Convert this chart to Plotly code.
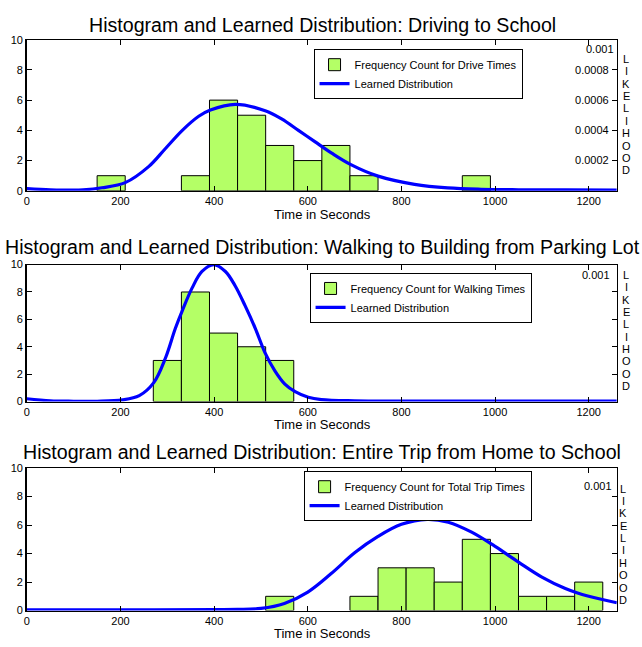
import plotly.graph_objects as go

# ---------------- data ----------------
titles = [
    "Histogram and Learned Distribution: Driving to School",
    "Histogram and Learned Distribution: Walking to Building from Parking Lot",
    "Histogram and Learned Distribution: Entire Trip from Home to School",
]
hist_names = [
    "Frequency Count for Drive Times",
    "Frequency Count for Walking Times",
    "Frequency Count for Total Trip Times",
]
curve_name = "Learned Distribution"
bin_width = 60

# Panel 1: drive times
drive_bins = [180, 360, 420, 480, 540, 600, 660, 720, 960]
drive_counts = [1, 1, 6, 5, 3, 2, 3, 1, 1]
drive_curve_x = [0, 50, 100, 120, 160, 210, 260, 296, 332, 367, 392, 445, 509,
                 544, 580, 615, 651, 692, 750, 828, 899, 970, 1050, 1150, 1260]
drive_curve_y = [0.000015, 0.000007, 0.000004, 0.000006, 0.00002, 0.000054,
                 0.00016, 0.00028, 0.0004, 0.000493, 0.000534, 0.000572,
                 0.00053, 0.000476, 0.0004, 0.000325, 0.000249, 0.000173,
                 0.000097, 0.000043, 0.000019, 0.00001, 0.000007, 0.000006,
                 0.000005]

# Panel 2: walking times
walk_bins = [300, 360, 420, 480, 540]
walk_counts = [3, 8, 5, 4, 3]
walk_curve_x = [0, 50, 100, 150, 204, 240, 271, 296, 317, 332, 353, 374, 399,
                424, 445, 466, 488, 509, 530, 551, 573, 601, 629, 700, 800,
                1000, 1260]
walk_curve_y = [0.00002, 0.000005, 0.000002, 0.000002, 0.000012, 0.000043,
                0.000138, 0.000318, 0.000533, 0.000664, 0.00083, 0.00095, 0.001,
                0.00095, 0.000844, 0.0007, 0.000533, 0.000353, 0.000222,
                0.000127, 0.000072, 0.000031, 0.000014, 0.000005, 0.000003,
                0.000003, 0.000003]

# Panel 3: total trip times
trip_bins = [540, 720, 780, 840, 900, 960, 1020, 1080, 1140, 1200]
trip_counts = [1, 1, 3, 3, 2, 5, 4, 1, 1, 2]
trip_curve_x = [0, 200, 400, 450, 500, 550, 600, 650, 700, 750, 800, 855, 900,
                950, 1000, 1050, 1100, 1150, 1200, 1260]
trip_curve_y = [0.000005, 0.000005, 0.000007, 0.000008, 0.000015, 0.00005, 0.00013,
                0.00026, 0.000405, 0.00052, 0.000605, 0.00064, 0.00062, 0.00055,
                0.00045, 0.00034, 0.000235, 0.000155, 0.0001, 0.000055]

x_ticks = [0, 200, 400, 600, 800, 1000, 1200]
y_ticks = [0, 2, 4, 6, 8, 10]
like_ticks = [0.0002, 0.0004, 0.0006, 0.0008, 0.001]
like_labels_p1 = ["0.0002", "0.0004", "0.0006", "0.0008", ""]
like_labels_blank = ["", "", "", "", ""]
side_title = "LIKELIHOOD"
top_like_label = "0.001"

# ---------------- layout helpers ----------------
W, H = 642, 647
FONT = "Liberation Sans, Arial, Helvetica, sans-serif"
BAR_COLOR = "#b4ff66"
LINE_COLOR = "#0000ff"


def px(x):
    return x / W


def py(y):
    return 1 - y / H


x_dom = [px(24), px(616.7)]
y_doms = [
    [py(188.3), py(34.3)],
    [py(403), py(263.5)],
    [py(616), py(470.8)],
]
title_y = [19, 246, 454]
xlabel_y = [212, 426, 639]
like_top = [54, 274, 491.7]
like_step = 12.6
like_x = [626, 626, 623]
top_label = [(616, 44), (612, 274), (614, 489)]
legend_pos = [(312, 44), (308, 272), (302, 474)]

bins = [drive_bins, walk_bins, trip_bins]
counts = [drive_counts, walk_counts, trip_counts]
cx = [drive_curve_x, walk_curve_x, trip_curve_x]
cy = [drive_curve_y, walk_curve_y, trip_curve_y]

fig = go.Figure()
layout = dict(
    width=W, height=H, autosize=False,
    margin=dict(l=0, r=0, t=0, b=0, pad=0),
    paper_bgcolor="white", plot_bgcolor="white",
    font=dict(family=FONT, size=11, color="black"),
    barmode="overlay",
    annotations=[],
)

for i in range(3):
    n = i + 1
    xa = "x" if n == 1 else f"x{n}"
    ya = "y" if n == 1 else f"y{n}"
    ya2_num = n + 3
    ya2 = f"y{ya2_num}"
    leg = "legend" if n == 1 else f"legend{n}"

    fig.add_trace(go.Bar(
        x=bins[i], y=counts[i], width=bin_width,
        marker=dict(color=BAR_COLOR, line=dict(color="black", width=1)),
        name=hist_names[i], xaxis=xa, yaxis=ya, legend=leg,
    ))
    fig.add_trace(go.Scatter(
        x=cx[i], y=cy[i], mode="lines",
        line=dict(color=LINE_COLOR, width=3.2, shape="spline", smoothing=1.0),
        name=curve_name, xaxis=xa, yaxis=ya2, legend=leg,
    ))

    xkey = "xaxis" if n == 1 else f"xaxis{n}"
    ykey = "yaxis" if n == 1 else f"yaxis{n}"
    layout[xkey] = dict(
        domain=x_dom, anchor=ya, range=[0, 1260],
        tickvals=x_ticks, ticks="inside", ticklen=5, tickcolor="black",
        showline=True, linecolor="black", linewidth=1, mirror="ticks",
        showgrid=False, zeroline=False, tickfont=dict(size=11),
    )
    layout[ykey] = dict(
        domain=y_doms[i], anchor=xa, range=[0, 10],
        tickvals=y_ticks, ticks="inside", ticklen=5, tickcolor="black",
        showline=True, linecolor="black", linewidth=1.5,
        showgrid=False, zeroline=False, tickfont=dict(size=11),
    )
    layout[f"yaxis{ya2_num}"] = dict(
        overlaying=ya, side="right", anchor=xa, range=[0, 0.001],
        tickvals=like_ticks,
        ticktext=like_labels_p1 if n == 1 else like_labels_blank,
        ticks="inside", ticklen=5, tickcolor="black",
        ticklabelposition="outside", ticklabelstandoff=-45,
        showline=True, linecolor="black", linewidth=1,
        showgrid=False, zeroline=False, tickfont=dict(size=11),
    )
    lx, ly = legend_pos[i]
    layout[leg] = dict(
        x=px(lx), y=py(ly), xanchor="left", yanchor="top",
        bordercolor="black", borderwidth=1, bgcolor="white",
        font=dict(size=11, family=FONT), tracegroupgap=0,
        itemwidth=30,
    )

    layout["annotations"] += [
        dict(text=titles[i], x=px(320.5), y=py(title_y[i]), xref="paper", yref="paper",
             xanchor="center", yanchor="middle", showarrow=False,
             font=dict(size=19.6, family=FONT)),
        dict(text="Time in Seconds", x=px(320.5), y=py(xlabel_y[i]), xref="paper",
             yref="paper", xanchor="center", yanchor="middle", showarrow=False,
             font=dict(size=13, family=FONT)),
        dict(text=top_like_label, x=px(top_label[i][0]), y=py(top_label[i][1]),
             xref="paper", yref="paper", xanchor="right", yanchor="middle",
             showarrow=False, font=dict(size=11, family=FONT)),
    ]
    for k, letter in enumerate(side_title):
        layout["annotations"].append(dict(
            text=letter, x=px(like_x[i]), y=py(like_top[i] + k * like_step),
            xref="paper", yref="paper", xanchor="center", yanchor="middle",
            showarrow=False, font=dict(size=11, family=FONT),
        ))

fig.update_layout(**layout)
fig.write_html(
    "out.html",
    config={"displayModeBar": False},
    post_script="document.body.style.margin='0';document.body.style.padding='0';"
                "document.body.style.overflow='hidden';",
)
